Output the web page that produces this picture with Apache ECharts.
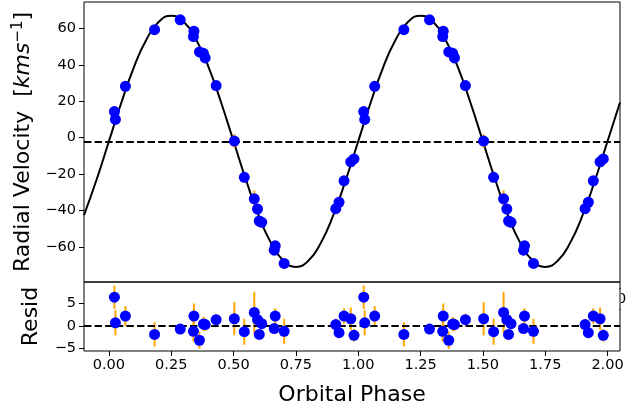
<!DOCTYPE html>
<html><head><meta charset="utf-8">
<script src="https://cdn.jsdelivr.net/npm/echarts@6/dist/echarts.min.js"></script>
<style>html,body{margin:0;padding:0;background:#fff}#c{width:627px;height:411px}</style>
</head><body><div id="c"></div>
<script>
// ---- data ----
const phase = [0.022, 0.026, 0.066, 0.183, 0.286, 0.339, 0.341, 0.363, 0.379, 0.386, 0.430, 0.503, 0.543, 0.583, 0.596, 0.603, 0.613, 0.663, 0.667, 0.703, 0.910, 0.923, 0.943, 0.970, 0.983,
               1.022, 1.026, 1.066, 1.183, 1.286, 1.339, 1.341, 1.363, 1.379, 1.386, 1.430, 1.503, 1.543, 1.583, 1.596, 1.603, 1.613, 1.663, 1.667, 1.703, 1.910, 1.923, 1.943, 1.970, 1.983];
const rv = [14.3, 10.0, 28.2, 59.3, 64.7, 55.5, 58.5, 47.1, 46.3, 43.8, 28.6, -1.9, -21.8, -33.6, -39.2, -45.8, -46.5, -61.8, -59.4, -69.1, -39.0, -35.5, -23.7, -13.3, -11.7,
            14.3, 10.0, 28.2, 59.3, 64.7, 55.5, 58.5, 47.1, 46.3, 43.8, 28.6, -1.9, -21.8, -33.6, -39.2, -45.8, -46.5, -61.8, -59.4, -69.1, -39.0, -35.5, -23.7, -13.3, -11.7];
const resid = [6.4, 0.7, 2.2, -1.9, -0.7, -1.2, 2.2, -3.2, 0.4, 0.3, 1.4, 1.6, -1.3, 3.0, 1.4, -1.9, 0.5, -0.6, 2.2, -1.2, 0.3, -1.5, 2.2, 1.6, -2.1,
               6.4, 0.7, 2.2, -1.9, -0.7, -1.2, 2.2, -3.2, 0.4, 0.3, 1.4, 1.6, -1.3, 3.0, 1.4, -1.9, 0.5, -0.6, 2.2, -1.2, 0.3, -1.5, 2.2, 1.6, -2.1];
const err = [2.6, 2.8, 2.2, 2.7, 0.8, 2.3, 2.8, 1.9, 1.6, 1.4, 1.3, 3.7, 2.9, 4.6, 1.5, 1.0, 1.0, 1.0, 1.7, 2.8, 1.2, 1.0, 1.7, 2.5, 1.4,
             2.6, 2.8, 2.2, 2.7, 0.8, 2.3, 2.8, 1.9, 1.6, 1.4, 1.3, 3.7, 2.9, 4.6, 1.5, 1.0, 1.0, 1.0, 1.7, 2.8, 1.2, 1.0, 1.7, 2.5, 1.4];
const modelPhase = [-0.10, -0.05,
  0.00, 0.05, 0.10, 0.15, 0.20, 0.25, 0.30, 0.35, 0.40, 0.45, 0.50, 0.55, 0.60, 0.65, 0.70, 0.75, 0.80, 0.85, 0.90, 0.95,
  1.00, 1.05, 1.10, 1.15, 1.20, 1.25, 1.30, 1.35, 1.40, 1.45, 1.50, 1.55, 1.60, 1.65, 1.70, 1.75, 1.80, 1.85, 1.90, 1.95,
  2.00, 2.05];
const modelRV = [-42.6, -23.3,
  -2.0, 19.3, 38.6, 53.8, 63.6, 67.0, 63.6, 53.8, 38.6, 19.3, -2.0, -23.3, -42.6, -57.8, -67.6, -71.0, -67.6, -57.8, -42.6, -23.3,
  -2.0, 19.3, 38.6, 53.8, 63.6, 67.0, 63.6, 53.8, 38.6, 19.3, -2.0, -23.3, -42.6, -57.8, -67.6, -71.0, -67.6, -57.8, -42.6, -23.3,
  -2.0, 19.3];
const gamma = -2.0;
const xTicks = [0, 0.25, 0.5, 0.75, 1.0, 1.25, 1.5, 1.75, 2.0];
const rvTicks = [-60, -40, -20, 0, 20, 40, 60];
const residTicks = [-5, 0, 5];

// ---- chart ----
const FONT = 'DejaVu Sans';
const minus = v => String(v).replace('-', '\u2212');
const chart = echarts.init(document.getElementById('c'), null, {renderer: 'canvas'});

function errRender(params, api) {
  const x = api.value(0), y = api.value(1), e = api.value(2);
  const a = api.coord([x, y - e]), b = api.coord([x, y + e]);
  return {type: 'line', shape: {x1: a[0], y1: a[1], x2: b[0], y2: b[1]},
          style: {stroke: '#ffa500', lineWidth: 2}};
}

const rvPts = phase.map((p, i) => [p, rv[i]]);
const rvErr = phase.map((p, i) => [p, rv[i], err[i]]);
const rsPts = phase.map((p, i) => [p, resid[i]]);
const rsErr = phase.map((p, i) => [p, resid[i], err[i]]);
const model = modelPhase.map((p, i) => [p, modelRV[i]]);

const tickStyle = {show: true, length: 5, lineStyle: {color: '#000', width: 1}};
const labelStyle = {fontFamily: FONT, fontSize: 14.5, color: '#000'};
const noLine = {show: false, onZero: false};

chart.setOption({
  animation: false,
  backgroundColor: '#fff',
  grid: [
    {left: 84, top: 2, width: 536, height: 280, show: true, borderColor: '#000', borderWidth: 1, backgroundColor: 'transparent'},
    {left: 84, top: 282, width: 536, height: 69, show: true, borderColor: '#000', borderWidth: 1, backgroundColor: 'transparent'}
  ],
  xAxis: [
    {type: 'value', gridIndex: 0, min: -0.1, max: 2.05, axisLine: noLine, axisTick: {show: false},
     axisLabel: {show: false}, splitLine: {show: false}},
    {type: 'value', gridIndex: 1, min: -0.1, max: 2.05, axisLine: noLine, position: 'bottom',
     axisTick: Object.assign({customValues: xTicks}, tickStyle),
     axisLabel: Object.assign({customValues: xTicks, margin: 7, formatter: v => v.toFixed(2)}, labelStyle),
     splitLine: {show: false},
     name: 'Orbital Phase', nameLocation: 'middle', nameGap: 33,
     nameTextStyle: {fontFamily: FONT, fontSize: 22, color: '#000'}}
  ],
  yAxis: [
    {type: 'value', gridIndex: 0, min: -79.3, max: 74.5, axisLine: noLine, position: 'left',
     axisTick: Object.assign({customValues: rvTicks}, tickStyle),
     axisLabel: Object.assign({customValues: rvTicks, margin: 8, formatter: minus}, labelStyle),
     splitLine: {show: false},
     name: '{a|Radial Velocity  [}{b|kms}{c|\u22121}{a|]}', nameLocation: 'middle', nameRotate: 90, nameGap: 40,
     nameTextStyle: {fontFamily: FONT, fontSize: 22, color: '#000',
       rich: {a: {fontFamily: FONT, fontSize: 22, color: '#000'},
              b: {fontFamily: FONT, fontSize: 22, fontStyle: 'italic', color: '#000'},
              c: {fontFamily: FONT, fontSize: 15, color: '#000', verticalAlign: 'top', padding: [0, 0, 10, 0]}}}},
    {type: 'value', gridIndex: 1, min: -5.6, max: 9.8, axisLine: noLine, position: 'left',
     axisTick: Object.assign({customValues: residTicks}, tickStyle),
     axisLabel: Object.assign({customValues: residTicks, margin: 8, formatter: minus}, labelStyle),
     splitLine: {show: false},
     name: 'Resid', nameLocation: 'middle', nameRotate: 90, nameGap: 42,
     nameTextStyle: {fontFamily: FONT, fontSize: 22, color: '#000'}}
  ],
  graphic: [
    {type: 'text', left: 617, top: 292, z: 0, style: {text: '0', fontFamily: FONT, fontSize: 14.5, fill: '#000'}},
    {type: 'rect', shape: {x: 610, y: 289, width: 11, height: 20}, z: 1, style: {fill: '#fff'}},
    {type: 'line', shape: {x1: 620, y1: 288, x2: 620, y2: 310}, z: 2, style: {stroke: '#000', lineWidth: 1}}
  ],
  series: [
    {type: 'line', xAxisIndex: 0, yAxisIndex: 0, data: model, showSymbol: false, smooth: true,
     lineStyle: {color: '#000', width: 2}, z: 2, silent: true,
     markLine: {symbol: 'none', silent: true, label: {show: false}, z: 5,
       lineStyle: {color: '#000', width: 2, type: [7.4, 3.2]}, data: [{yAxis: gamma}]}},
    {type: 'custom', xAxisIndex: 0, yAxisIndex: 0, data: rvErr, renderItem: errRender, z: 3, clip: true},
    {type: 'scatter', xAxisIndex: 0, yAxisIndex: 0, data: rvPts, symbolSize: 11,
     itemStyle: {color: '#0000ff', opacity: 1}, z: 10},
    {type: 'custom', xAxisIndex: 1, yAxisIndex: 1, data: rsErr, renderItem: errRender, z: 3, clip: true,
     markLine: {symbol: 'none', silent: true, label: {show: false}, z: 5,
       lineStyle: {color: '#000', width: 2, type: [7.4, 3.2]}, data: [{yAxis: 0}]}},
    {type: 'scatter', xAxisIndex: 1, yAxisIndex: 1, data: rsPts, symbolSize: 11,
     itemStyle: {color: '#0000ff', opacity: 1}, z: 10}
  ]
});
</script></body></html>
